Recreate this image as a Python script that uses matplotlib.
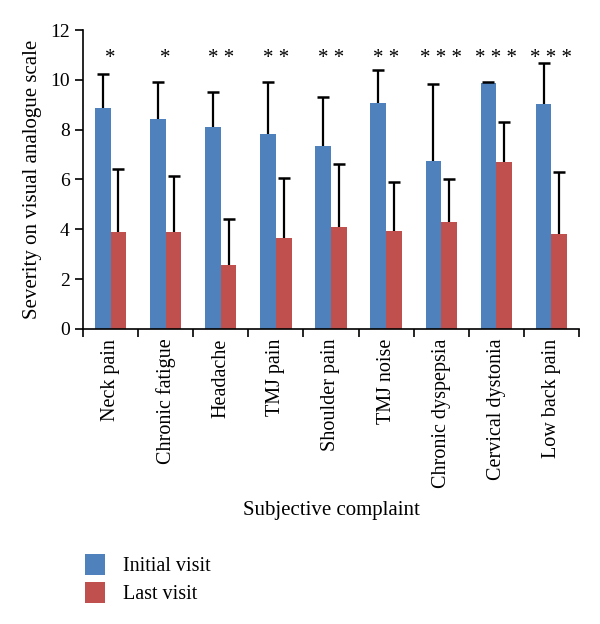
import matplotlib
matplotlib.use("Agg")
import matplotlib.pyplot as plt
import numpy as np

categories = ["Neck pain", "Chronic fatigue", "Headache", "TMJ pain", "Shoulder pain",
              "TMJ noise", "Chronic dyspepsia", "Cervical dystonia", "Low back pain"]
initial = [8.88, 8.41, 8.09, 7.83, 7.35, 9.09, 6.76, 9.88, 9.03]
initial_err = [1.36, 1.50, 1.42, 2.10, 1.98, 1.32, 3.07, 0.02, 1.65]
last = [3.89, 3.88, 2.55, 3.65, 4.11, 3.95, 4.31, 6.72, 3.81]
last_err = [2.52, 2.25, 1.85, 2.42, 2.50, 1.94, 1.70, 1.59, 2.48]
signif = ["*", "*", "**", "**", "**", "**", "***", "***", "***"]
y_ticks = [0, 2, 4, 6, 8, 10, 12]

plt.rcParams['font.family'] = ['Liberation Serif', 'DejaVu Serif']

fig = plt.figure(figsize=(6, 6.24), dpi=100)
ax = fig.add_axes([0.1383, 0.4728, 0.8267, 0.4791])

x = np.arange(len(categories))
w = 0.285
blue = "#4F81BD"
red = "#C0504D"
ax.bar(x - w / 2, initial, w, color=blue, label="Initial visit", zorder=2)
ax.bar(x + w / 2, last, w, color=red, label="Last visit", zorder=2)

for offs, vals, errs in [(-w / 2, initial, initial_err), (w / 2, last, last_err)]:
    vals = np.array(vals)
    errs = np.array(errs)
    ax.errorbar(x + offs, vals, yerr=[np.zeros(len(x)), errs], fmt="none",
                ecolor="black", elinewidth=1.6, capsize=0, zorder=3)
    ax.plot(x + offs, vals + errs, linestyle="none", marker="_", ms=8,
            mew=1.8, color="black", zorder=3)

for xi, s in zip(x, signif):
    ax.text(xi, 10.85, " ".join(s), ha="center", va="center", fontsize=15)

ax.set_xlim(-0.5, len(categories) - 0.5)
ax.set_ylim(0, 12)
ax.set_yticks(y_ticks)
ax.tick_params(axis="y", labelsize=14, direction="out", length=6, width=1.2)
ax.set_xticks(np.arange(len(categories) + 1) - 0.5, minor=False)
ax.set_xticklabels([])
ax.set_xticks(x, minor=True)
ax.set_xticklabels(categories, minor=True, rotation=90, fontsize=14.5)
ax.tick_params(axis="x", which="major", direction="out", length=6, width=1.2)
ax.tick_params(axis="x", which="minor", length=0, pad=7)
for sp in ["top", "right"]:
    ax.spines[sp].set_visible(False)
for sp in ["left", "bottom"]:
    ax.spines[sp].set_linewidth(1.2)

ax.set_ylabel("Severity on visual analogue scale", fontsize=15, labelpad=6)
ax.set_xlabel("Subjective complaint", fontsize=15, labelpad=9)

fig.legend(loc="upper left", bbox_to_anchor=(0.128, 0.125), frameon=False,
           fontsize=14.5, handlelength=1.0, handleheight=1.2, labelspacing=0.3,
           handletextpad=0.9, borderaxespad=0)

fig.savefig("out.png", dpi=100)
